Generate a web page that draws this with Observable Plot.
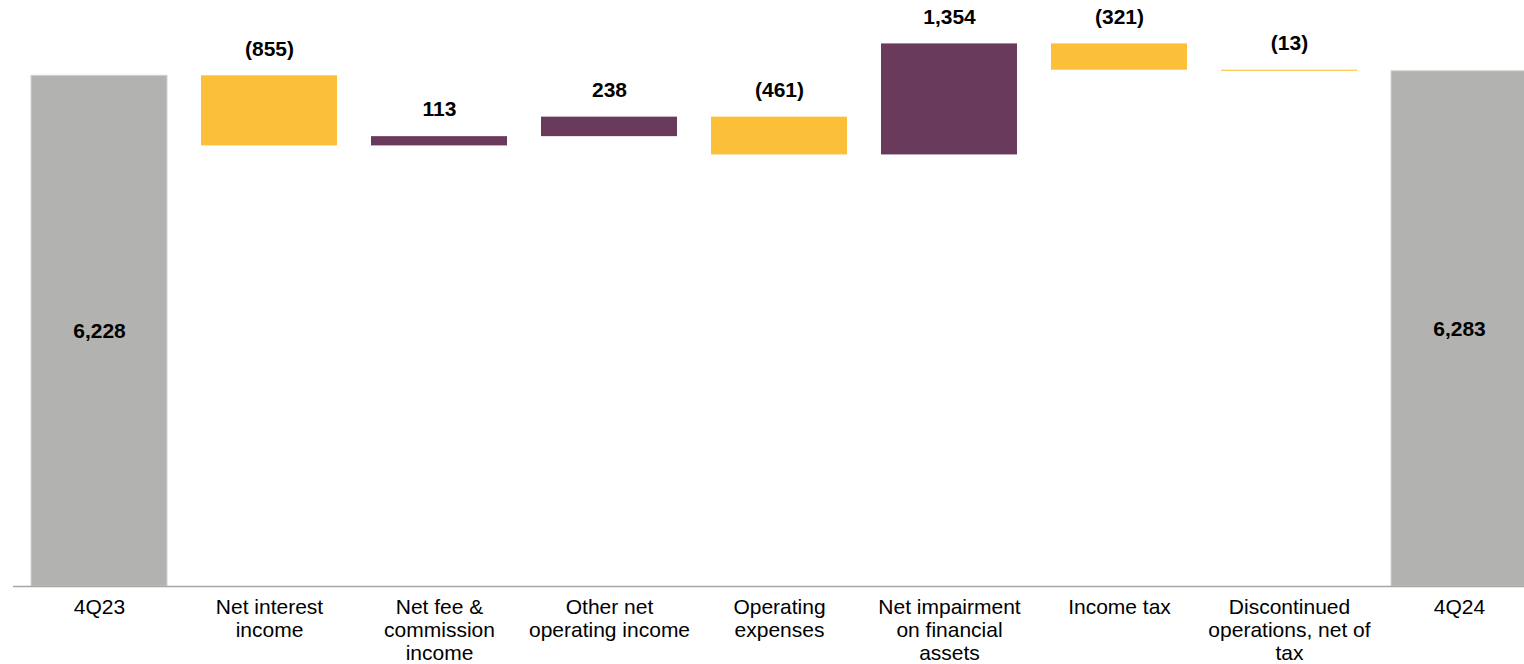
<!DOCTYPE html>
<html>
<head>
<meta charset="utf-8">
<script src="https://cdn.jsdelivr.net/npm/d3@7"></script>
<script src="https://cdn.jsdelivr.net/npm/@observablehq/plot@0.6"></script>
<style>
  html, body { margin: 0; padding: 0; background: #fff; overflow: hidden; }
  #chart svg { display: block; overflow: hidden; }
</style>
</head>
<body>
<div id="chart"></div>
<script>
// Categories (tick labels, with line breaks as in the reference)
const categories = [
  "4Q23",
  "Net interest\nincome",
  "Net fee &\ncommission\nincome",
  "Other net\noperating income",
  "Operating\nexpenses",
  "Net impairment\non financial\nassets",
  "Income tax",
  "Discontinued\noperations, net of\ntax",
  "4Q24"
];
// Values: totals for first/last, changes for the rest
const values = [6228, -855, 113, 238, -461, 1354, -321, -13, 6283];
const kinds = ["total", "delta", "delta", "delta", "delta", "delta", "delta", "delta", "total"];

const colors = { total: "#B2B3B0", up: "#6A3A5C", down: "#FBC037" };

// Build waterfall table
let running = 0;
const rows = categories.map((c, i) => {
  const v = values[i];
  let y1, y2, kind;
  if (kinds[i] === "total") {
    y1 = 0; y2 = v; running = v; kind = "total";
  } else {
    y1 = running; y2 = running + v; running = y2; kind = v >= 0 ? "up" : "down";
  }
  const fmt = d3.format(",")(Math.abs(v));
  const label = (kinds[i] === "delta" && v < 0) ? `(${fmt})` : fmt;
  return { cat: c, y1, y2, kind, color: colors[kind], label, top: Math.max(y1, y2), mid: (y1 + y2) / 2 };
});

const font = 'Arial, "Liberation Sans", sans-serif';

const chart = Plot.plot({
  width: 1524,
  height: 664,
  marginTop: 12,
  marginBottom: 78,
  marginLeft: 13,
  marginRight: 0,
  style: { fontFamily: font, background: "#fff", color: "#000" },
  x: { domain: categories, range: [14, 1544], paddingInner: 0.2, paddingOuter: 0.1 },
  y: { domain: [0, 7000] },
  color: { type: "identity" },
  marks: [
    Plot.barY(rows.filter(d => d.kind === "total"), {
      x: "cat", y1: "y1", y2: "y2", fill: "color", stroke: "#d2d3d0", strokeWidth: 1
    }),
    Plot.barY(rows.filter(d => d.kind !== "total"), {
      x: "cat", y1: "y1", y2: "y2", fill: "color"
    }),
    Plot.ruleY([0], { stroke: "#a6a6a6", strokeWidth: 1.5 }),
    Plot.text(rows.filter(d => d.kind !== "total"), {
      x: "cat", y: "top", text: "label",
      dy: -27, fontSize: 21, fontWeight: "bold", fill: "#000"
    }),
    Plot.text(rows.filter(d => d.kind === "total"), {
      x: "cat", y: "mid", text: "label",
      fontSize: 21, fontWeight: "bold", fill: "#000"
    }),
    Plot.axisX({
      tickSize: 0, tickPadding: 11, fontSize: 21, lineHeight: 1.1,
      label: null, fill: "#000"
    }),
    Plot.axisY({ ticks: [], label: null, tickSize: 0 })
  ]
});

document.getElementById("chart").appendChild(chart);
</script>
</body>
</html>
